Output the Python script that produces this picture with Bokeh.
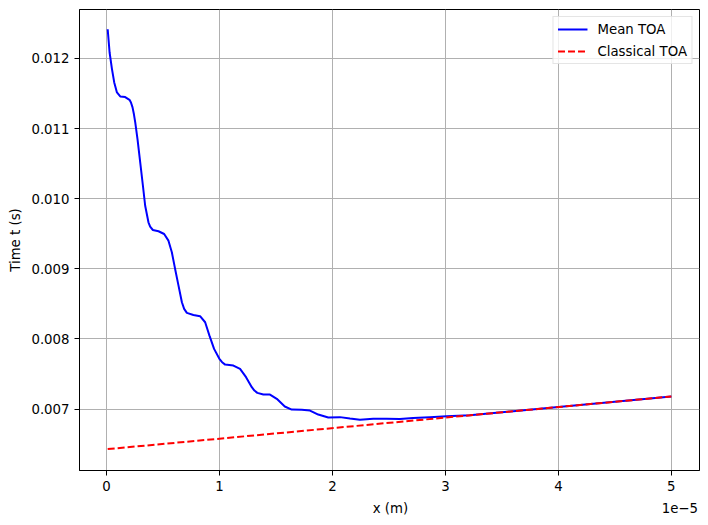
from bokeh.plotting import figure
from bokeh.models import (FixedTicker, PrintfTickFormatter, CustomJSTickFormatter,
                          Range1d)
from bokeh.embed import file_html
from bokeh.resources import INLINE

# ---- data (x in units of 1e-5 m, t in s) ----
x_mean_1e5 = [0.01, 0.027, 0.048, 0.068, 0.092, 0.121, 0.165, 0.203, 0.216, 0.230,
              0.242, 0.254, 0.274, 0.298, 0.322, 0.342, 0.371, 0.386, 0.410, 0.460,
              0.510, 0.548, 0.578, 0.607, 0.637, 0.667, 0.687, 0.711, 0.769, 0.828,
              0.873, 0.890, 0.911, 0.952, 0.999, 1.023, 1.050, 1.123, 1.182, 1.235,
              1.286, 1.309, 1.335, 1.388, 1.447, 1.507, 1.578, 1.639, 1.728, 1.801,
              1.874, 1.963, 2.066, 2.155, 2.243, 2.361, 2.479, 2.597, 2.714, 2.862,
              3.010, 3.216, 3.600, 4.000, 4.500, 5.000]
t_mean = [0.012417, 0.012085, 0.011848, 0.011658, 0.011516, 0.011459, 0.011449, 0.011410,
          0.011373, 0.011302, 0.011207, 0.011088, 0.010850, 0.010519, 0.010185, 0.009900,
          0.009664, 0.009601, 0.009554, 0.009536, 0.009497, 0.009402, 0.009236, 0.008999,
          0.008761, 0.008524, 0.008429, 0.008372, 0.008343, 0.008325, 0.008239, 0.008154,
          0.008048, 0.007859, 0.007717, 0.007669, 0.007635, 0.007621, 0.007574, 0.007456,
          0.007313, 0.007265, 0.007232, 0.007208, 0.007208, 0.007147, 0.007037, 0.006994,
          0.006990, 0.006980, 0.006923, 0.006880, 0.006886, 0.006866, 0.006848, 0.006862,
          0.006862, 0.006858, 0.006872, 0.006886, 0.006900, 0.006912, 0.006970, 0.007030,
          0.007105, 0.007180]

x_classical_1e5 = [0.01, 5.0]
t_classical = [0.006430, 0.007180]

x_ticks_1e5 = [0, 1, 2, 3, 4, 5]
y_ticks = [0.007, 0.008, 0.009, 0.010, 0.011, 0.012]

x_label = "x (m)"
x_offset_text = "1e\u22125"

SCALE = 1e-5
x_mean = [v * SCALE for v in x_mean_1e5]
x_classical = [v * SCALE for v in x_classical_1e5]
x_ticks = [v * SCALE for v in x_ticks_1e5]

FONT = "DejaVu Sans"
FS = "13.3px"
NBSP = "\u00a0"

p = figure(frame_width=620, frame_height=461,
           min_border_left=79, min_border_right=9, min_border_top=9, min_border_bottom=48,
           x_range=Range1d(-0.2395e-5, 5.2495e-5), y_range=Range1d(0.006125, 0.012698),
           output_backend="svg", toolbar_location=None)

p.line(x_mean, t_mean, line_color="blue", line_width=2, legend_label="Mean TOA")
p.line(x_classical, t_classical, line_color="red", line_width=2, line_dash="7 3",
       legend_label="Classical TOA")

p.xaxis.ticker = FixedTicker(ticks=x_ticks)
p.xaxis.formatter = CustomJSTickFormatter(code="return (tick*1e5).toFixed(0);")
p.yaxis.ticker = FixedTicker(ticks=y_ticks)
p.yaxis.formatter = PrintfTickFormatter(format="%.3f")

# x label centred under the frame, offset text "1e−5" at the right end of the same row
p.xaxis.axis_label = NBSP * 69 + x_label + NBSP * 60 + x_offset_text
p.yaxis.axis_label = "Time t (s)"

for ax in (p.xaxis, p.yaxis):
    ax.axis_label_text_font = FONT
    ax.axis_label_text_font_size = FS
    ax.axis_label_text_font_style = "normal"
    ax.axis_label_text_color = "black"
    ax.major_label_text_font = FONT
    ax.major_label_text_font_size = FS
    ax.major_label_text_color = "black"
    ax.major_tick_out = 5
    ax.major_tick_in = 0
    ax.major_tick_line_color = "black"
    ax.major_tick_line_width = 1
    ax.minor_tick_line_color = None
    ax.axis_line_color = "black"
    ax.axis_line_width = 1
    ax.major_label_standoff = 5

p.xaxis.axis_label_standoff = 7
p.yaxis.axis_label_standoff = 5

p.grid.grid_line_color = "#b0b0b0"
p.grid.grid_line_width = 1
p.outline_line_color = "black"
p.outline_line_width = 1
p.outline_line_alpha = 1
p.background_fill_color = "white"
p.border_fill_color = "white"

lg = p.legend[0]
lg.location = "top_right"
lg.margin = 7
lg.padding = 4
lg.spacing = 6
lg.glyph_height = 16
lg.glyph_width = 30
lg.label_standoff = 10
lg.label_text_font = FONT
lg.label_text_font_size = FS
lg.label_text_color = "black"
lg.border_line_color = "#cccccc"
lg.border_line_width = 1
lg.background_fill_alpha = 0.8

open("out.html", "w").write(file_html(p, INLINE))
